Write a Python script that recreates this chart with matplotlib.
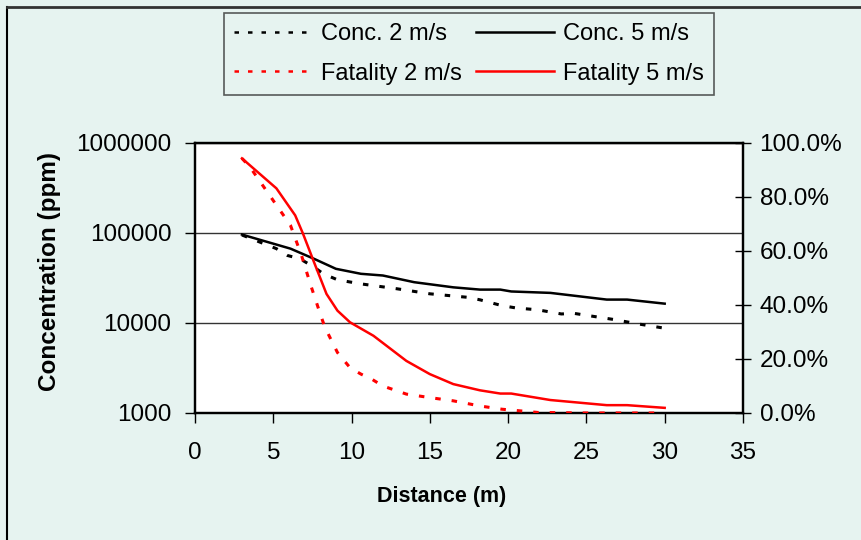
import matplotlib
matplotlib.use("Agg")
import matplotlib.pyplot as plt
from matplotlib.ticker import FixedLocator, FuncFormatter, NullLocator
from matplotlib.lines import Line2D

plt.rcParams['font.family'] = ['Liberation Sans', 'DejaVu Sans']

# Concentration, 5 m/s (solid black)
conc5_x = [3.0, 6.1, 7.6, 9.0, 10.6, 12.0, 14.0, 16.5, 18.2, 19.5, 20.2, 22.7, 26.3, 27.6, 30.0]
conc5_y = [96000, 67000, 51700, 40000, 35200, 33700, 28400, 24900, 23500, 23500, 22400, 21600, 18200, 18200, 16400]

# Concentration, 2 m/s (dotted black)
conc2_x = [3.0, 5.2, 5.9, 6.7, 7.6, 8.2, 9.1, 10.6, 12.9, 15.0, 17.4, 18.2, 19.6, 20.5, 21.9, 23.4, 24.2, 25.1, 26.8, 28.3, 29.9]
conc2_y = [95000, 67000, 56300, 51700, 41800, 35200, 30200, 27200, 24000, 21100, 19300, 18100, 15600, 14700, 14000, 12600, 12800, 12100, 10900, 9770, 8800]

# Fatality, 5 m/s (solid red), fraction
fat5_x = [3.0, 5.2, 6.4, 6.9, 7.6, 8.4, 9.1, 9.9, 11.4, 13.5, 15.0, 16.5, 18.2, 19.5, 20.2, 22.7, 26.3, 27.6, 30.0]
fat5_y = [0.943, 0.832, 0.732, 0.664, 0.559, 0.441, 0.379, 0.336, 0.286, 0.193, 0.144, 0.107, 0.084, 0.072, 0.072, 0.048, 0.029, 0.029, 0.019]

# Fatality, 2 m/s (dotted red), fraction
fat2_x = [3.0, 3.5, 5.2, 6.1, 6.8, 7.4, 8.0, 8.3, 9.1, 9.9, 10.6, 11.3, 12.0, 13.5, 15.0, 16.5, 18.2, 19.6, 21.9, 25.0, 30.0]
fat2_y = [0.943, 0.912, 0.770, 0.695, 0.584, 0.472, 0.367, 0.317, 0.224, 0.168, 0.144, 0.125, 0.100, 0.070, 0.057, 0.045, 0.026, 0.014, 0.002, 0.0, 0.0]

x_ticks = [0, 5, 10, 15, 20, 25, 30, 35]
y_ticks = [1000, 10000, 100000, 1000000]
p_ticks = [0.0, 0.2, 0.4, 0.6, 0.8, 1.0]

bg = '#E6F3F0'
fig = plt.figure(figsize=(8.62, 5.4), dpi=100, facecolor=bg)
ax = fig.add_axes([0.2262, 0.2352, 0.6357, 0.5])
ax.set_facecolor('white')
ax.set_yscale('log')
ax.set_xlim(0, 35)
ax.set_ylim(1000, 1000000)

dot = (0, (1.8, 3.6))
ax.plot(conc2_x, conc2_y, color='black', lw=2.2, linestyle=dot, zorder=3)
ax.plot(conc5_x, conc5_y, color='black', lw=1.8, zorder=3)

ax.yaxis.set_major_locator(FixedLocator(y_ticks))
ax.yaxis.set_minor_locator(NullLocator())
ax.yaxis.set_major_formatter(FuncFormatter(lambda v, p: f"{int(round(v))}"))
ax.xaxis.set_major_locator(FixedLocator(x_ticks))
ax.grid(axis='y', color='#333333', lw=1.0)
ax.set_axisbelow(True)

ax.tick_params(axis='both', labelsize=17.5, direction='out', length=7, width=1.0, colors='black')
ax.tick_params(axis='x', pad=14)
ax.tick_params(axis='y', pad=10)
for s in ax.spines.values():
    s.set_linewidth(1.6)
    s.set_color('black')

ax.set_xlabel('Distance (m)', fontsize=15.5, fontweight='bold')
ax.xaxis.set_label_coords(0.45, -0.27)
ax.set_ylabel('Concentration (ppm)', fontsize=17.5, fontweight='bold')
ax.yaxis.set_label_coords(-0.245, 0.525)

ax2 = ax.twinx()
ax2.set_ylim(0, 1)
ax2.plot(fat2_x, fat2_y, color='red', lw=2.2, linestyle=dot, zorder=3)
ax2.plot(fat5_x, fat5_y, color='red', lw=1.8, zorder=3)
ax2.yaxis.set_major_locator(FixedLocator(p_ticks))
ax2.yaxis.set_major_formatter(FuncFormatter(lambda v, p: f"{v*100:.1f}%"))
ax2.tick_params(axis='y', labelsize=17.5, direction='inout', length=12, width=1.0, pad=6)
for s in ax2.spines.values():
    s.set_linewidth(1.6)

handles = [
    Line2D([], [], color='black', lw=1.8, linestyle=dot),
    Line2D([], [], color='black', lw=1.8),
    Line2D([], [], color='red', lw=1.8, linestyle=dot),
    Line2D([], [], color='red', lw=1.8),
]
labels = ['Conc. 2 m/s', 'Conc. 5 m/s', 'Fatality 2 m/s', 'Fatality 5 m/s']
# order for column-major filling with ncol=2
order = [0, 2, 1, 3]
leg = fig.legend([handles[i] for i in order], [labels[i] for i in order],
                 loc='upper center', bbox_to_anchor=(469 / 862, 1 - 13 / 540),
                 ncol=2, fontsize=17, handlelength=3.3,
                 handletextpad=0.4, columnspacing=0.6, frameon=True,
                 fancybox=False, borderaxespad=0.0, labelspacing=0.75,
                 borderpad=0.42)
leg.get_frame().set_facecolor(bg)
leg.get_frame().set_edgecolor('#333333')
leg.get_frame().set_linewidth(1.2)

# figure border (top and left)
fig.add_artist(Line2D([0.008, 0.008], [0.0, 0.987], transform=fig.transFigure, color='black', lw=1.5))
fig.add_artist(Line2D([0.008, 1.0], [0.987, 0.987], transform=fig.transFigure, color='#333333', lw=2))

fig.savefig('out.png', dpi=100, facecolor=bg)
